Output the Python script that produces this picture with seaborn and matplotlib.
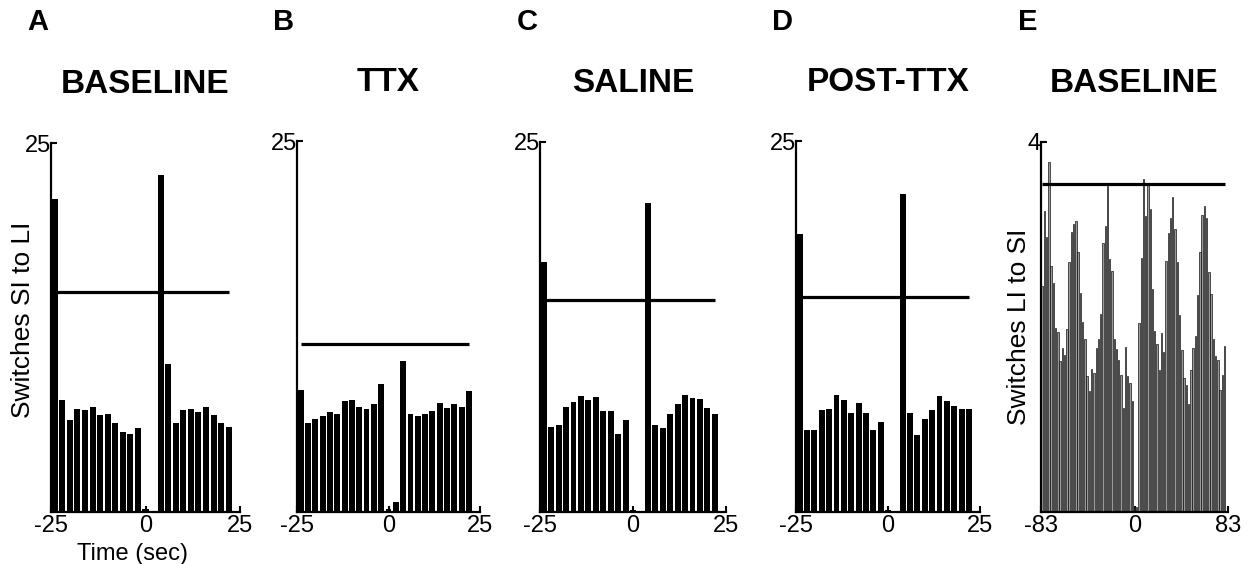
import seaborn as sns
import matplotlib.pyplot as plt
import pandas as pd

# bin centres (sec) for panels A-D and E
bins_short = list(range(-24, 24, 2))
bins_long = list(range(-82, 82, 2))

# switches SI to LI, panels A-D
baseline = [21.2, 7.6, 6.2, 7.0, 6.9, 7.1, 6.55, 6.65, 6.0, 5.4, 5.3, 5.7,
            0.2, 0.05, 22.8, 10.0, 6.05, 6.9, 7.0, 6.75, 7.1, 6.6, 6.0, 5.75]
ttx = [8.25, 6.0, 6.3, 6.5, 6.75, 6.6, 7.5, 7.55, 7.1, 6.95, 7.25, 8.6,
       0.2, 0.65, 10.2, 6.6, 6.45, 6.6, 6.8, 7.35, 7.0, 7.3, 7.1, 8.15]
saline = [16.9, 5.75, 5.85, 7.1, 7.4, 7.85, 7.55, 7.8, 6.85, 6.8, 5.25, 6.25,
          0.15, 0.05, 20.9, 5.85, 5.7, 6.65, 7.3, 7.9, 7.7, 7.65, 7.05, 6.65]
post_ttx = [18.7, 5.55, 5.5, 6.85, 6.95, 7.9, 7.55, 6.7, 7.35, 6.65, 5.55, 6.05,
            0.15, 0.05, 21.4, 6.7, 5.2, 6.3, 6.85, 7.85, 7.5, 7.15, 6.95, 6.95]

# switches LI to SI, panel E
baseline_long = [2.44, 3.25, 2.97, 3.78, 2.66, 2.48, 1.99, 1.95, 1.63, 1.77,
                 1.70, 1.98, 2.70, 3.03, 3.11, 3.15, 2.81, 2.37, 2.05, 1.87,
                 1.47, 1.31, 1.55, 1.50, 1.77, 1.87, 2.14, 2.91, 3.09, 3.52,
                 2.74, 2.61, 1.87, 1.76, 1.64, 1.48, 1.12, 1.78, 1.47, 1.39,
                 1.20, 0.05, 0.05, 2.04, 2.75, 3.60, 3.20, 3.56, 3.28, 2.41,
                 1.96, 1.82, 1.53, 1.94, 1.73, 2.71, 3.02, 3.18, 3.41, 3.06,
                 2.70, 2.13, 1.75, 1.45, 1.37, 1.17, 1.54, 1.77, 1.90, 2.35,
                 2.81, 3.21, 3.31, 3.18, 2.59, 2.36, 1.87, 1.69, 1.64, 1.32,
                 1.48, 1.79]

# threshold lines
thresh = [14.9, 11.35, 14.35, 14.5]
thresh_long = 3.55

titles = ['BASELINE', 'TTX', 'SALINE', 'POST-TTX', 'BASELINE']
letters = ['A', 'B', 'C', 'D', 'E']

sns.set_style('ticks', {'axes.edgecolor': 'black', 'text.color': 'black',
                        'xtick.color': 'black', 'ytick.color': 'black',
                        'axes.labelcolor': 'black'})
plt.rcParams['font.family'] = ['Liberation Sans', 'DejaVu Sans']

W, H = 1251, 564
fig = plt.figure(figsize=(W / 100, H / 100), dpi=100)

# axes boxes in pixels: left, right, top, bottom
boxes = [(51, 240, 143, 512), (297, 480, 141, 512), (540, 726, 142, 512),
         (796, 980, 141, 512), (1041, 1228, 142, 512)]

axes = []
for (l, r, t, b) in boxes:
    axes.append(fig.add_axes([l / W, 1 - b / H, (r - l) / W, (b - t) / H]))

short_sets = [baseline, ttx, saline, post_ttx]
for i in range(4):
    ax = axes[i]
    df = pd.DataFrame({'t': bins_short, 'n': short_sets[i]})
    sns.barplot(data=df, x='t', y='n', native_scale=True, orient='x',
                color='black', width=0.8, linewidth=0, ax=ax)
    ax.hlines(thresh[i], -24, 22, color='black', lw=2.3)
    ax.set_xlim(-25, 25)
    ax.set_ylim(0, 25)
    ax.set_xticks([-25, 0, 25])
    ax.set_xticklabels(['-25', '0', '25'])
    ax.set_yticks([25])
    ax.set_yticklabels(['25'])

ax = axes[4]
df = pd.DataFrame({'t': bins_long, 'n': baseline_long})
sns.barplot(data=df, x='t', y='n', native_scale=True, orient='x',
            color='#9a9a9a', edgecolor='black', linewidth=0.45, width=0.62,
            saturation=1, ax=ax)
ax.hlines(thresh_long, -82, 80, color='black', lw=2.3)
ax.set_xlim(-83, 83)
ax.set_ylim(0, 4)
ax.set_xticks([-83, 0, 83])
ax.set_xticklabels(['-83', '0', '83'])
ax.set_yticks([4])
ax.set_yticklabels(['4'])

for i, ax in enumerate(axes):
    sns.despine(ax=ax)
    ax.spines['left'].set_linewidth(1.6)
    ax.spines['bottom'].set_linewidth(1.6)
    ax.tick_params(direction='in', length=4, width=1.5, labelsize=17, pad=2,
                   colors='black')
    ax.tick_params(axis='y', pad=0)
    ax.set_xlabel('')
    ax.set_ylabel('')
    ax.set_title(titles[i], fontsize=24, fontweight='bold', pad=36,
                 color='black')
    l = boxes[i][0]
    fig.text((l - 13) / W, 1 - 22 / H, letters[i], fontsize=21,
             fontweight='bold', ha='center', va='center', color='black',
             family=['Liberation Sans Narrow', 'Liberation Sans'])

axes[0].set_ylabel('Switches SI to LI', fontsize=19, color='black')
axes[0].yaxis.set_label_coords(-0.085, 0.52)
axes[0].set_xlabel('Time (sec)', fontsize=17, color='black')
axes[0].xaxis.set_label_coords(0.43, -0.085)
axes[4].set_ylabel('Switches LI to SI', fontsize=19, color='black')
axes[4].yaxis.set_label_coords(-0.055, 0.5)

plt.savefig('out.png', dpi=100)
